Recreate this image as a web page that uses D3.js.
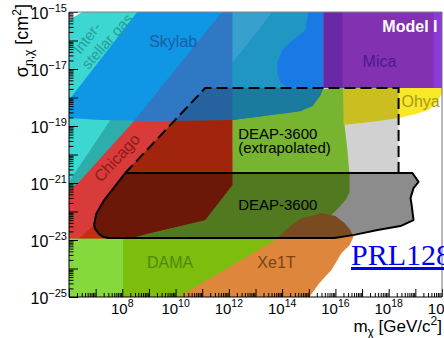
<!DOCTYPE html>
<html>
<head>
<meta charset="utf-8">
<script src="https://cdn.jsdelivr.net/npm/d3@7"></script>
<style>
  html, body { margin: 0; padding: 0; background: #fff; overflow: hidden; }
  svg { display: block; font-family: "Liberation Sans", Arial, Helvetica, sans-serif; }
</style>
</head>
<body>
<svg id="chart" width="444" height="338"></svg>
<script>
// Region outlines, vertices given as [log10(m / GeV), log10(sigma / cm^2)]
const interstellarGas = [[6.49,-15],[12.1,-15],[6,-21.5],[6,-15.28]];
const interstellarGasInner = [[8.29,-17.81],[10.92,-17.81],[6,-22.65],[6,-20.96],[7.5,-18.86]];
const damaUpper = [[12.13,-17.91],[16.30,-17.67],[16.34,-18.96],[16.45,-19.84],[16.53,-20.72],[16.53,-21.32],
                   [16.41,-21.56],[16.11,-21.88],[15.81,-22.16],[15.81,-23.04],[8.03,-23.04],[8.03,-22.30],[12.13,-19.84]];
const chicago = [[11.75,-15],[12.13,-15],[12.13,-21.07],[11.11,-22.30],[9.05,-22.75],[7.54,-23.11],[6,-23.18],
                 [6,-21.25],[6.38,-20.96],[8.41,-18.86],[11.19,-15.63]];
const chicagoDeep = [[6.26,-23.04],[6.94,-22.47],[7.02,-22.09],[7.32,-21.60],[7.73,-21.11],[8.11,-20.65],[11.11,-17.67],
                     [12.13,-17.67],[12.13,-21.07],[11.11,-22.30],[9.05,-22.75],[7.54,-23.11]];
const dama = [[6,-22.96],[15.81,-22.96],[14.68,-25],[6,-25]];
const damaLowMass = [[6,-22.96],[8.03,-22.96],[8.03,-25],[6,-25]];
const xe1t = [[10.10,-25],[13.74,-23.0],[14.31,-22.51],[14.68,-22.26],[15.47,-22.05],[16.0,-22.16],[16.34,-22.40],
              [16.56,-22.65],[16.68,-22.89],[16.53,-23.18],[16.23,-23.46],[15.85,-24.05],[15.40,-24.51],[15.02,-25]];
const skylab = [[8.56,-15],[15.55,-15],[15.55,-17.67],[15.44,-17.91],[15.14,-18.30],[14.68,-18.47],[12.13,-18.79],
                [9.05,-18.82],[7.17,-18.79],[6,-18.72],[6,-18.09]];
const skylabCore = [[13.8,-15],[15.55,-15],[15.55,-17.67],[13.8,-17.67]];
const skylabMid = [[12.13,-16.79],[13.11,-15.63],[13.63,-15],[14.98,-15],[14.87,-15.63],[14.31,-16.05],[14.01,-16.33],
                   [13.82,-16.75],[13.82,-17.14],[13.93,-17.46],[14.16,-17.63],[15.51,-17.67],[15.44,-17.91],
                   [15.14,-18.30],[14.68,-18.47],[14.50,-18.51],[12.13,-18.79]];
const skylabEdge = [[12.13,-15],[13.63,-15],[13.11,-15.63],[12.13,-16.79]];
const skylabChicago = [[11.75,-15],[12.13,-15],[12.13,-18.79],[8.44,-18.82],[11.19,-15.63]];
const mica = [[15.55,-15],[20,-15],[20,-17.67],[15.55,-17.67]];
const micaLow = [[15.55,-15],[16.26,-15],[16.26,-17.67],[15.55,-17.67]];
const micaHigh = [[19.68,-15],[20,-15],[20,-17.67],[19.68,-17.67]];
const ohya = [[16.30,-17.67],[20,-17.67],[20,-17.84],[19.80,-18.19],[19.50,-18.44],[19.01,-18.58],[18.37,-18.72],
              [17.32,-18.86],[16.30,-18.96]];
const deapExtrapolated = [[8.11,-20.65],[11.11,-17.67],[18.37,-17.67],[18.37,-20.65]];
const deap = [[8.11,-20.65],[18.89,-20.65],[19.12,-20.96],[18.93,-21.18],[18.82,-21.53],[18.86,-21.77],[18.93,-22.30],
              [18.44,-22.51],[17.58,-22.65],[16.71,-22.82],[15.96,-22.93],[7.47,-22.93],[7.28,-22.89],[7.13,-22.79],
              [6.98,-22.61],[6.94,-22.47],[7.02,-22.09],[7.32,-21.60],[7.73,-21.11]];

// Axis decades
const xLabelExps = [8, 10, 12, 14, 16, 18, 20];
const yLabelExps = [-15, -17, -19, -21, -23, -25];

(function draw() {
  const svg = d3.select("#chart");
  const pL = 69, pR = 442, pT = 12, pB = 297;
  const x = d3.scaleLog().domain([1e6, 1e20]).range([pL, pR]);
  const y = d3.scaleLog().domain([1e-25, 1e-15]).range([pB, pT]);

  const toXY = d => [x(10 ** d[0]), y(10 ** d[1])];
  const path = pts => "M" + pts.map(toXY).map(p => p.join(",")).join("L") + "Z";

  svg.append("defs").append("clipPath").attr("id", "plot")
    .append("rect").attr("x", pL).attr("y", pT).attr("width", pR - pL).attr("height", pB - pT);

  const g = svg.append("g").attr("clip-path", "url(#plot)");

  const fills = [
    [interstellarGas, "#3dd7d2"],
    [interstellarGasInner, "#2daeaa"],
    [damaUpper, "#92dc3b"],
    [chicago, "#d93a3a"],
    [chicagoDeep, "#c52c10"],
    [dama, "#7cbd0e"],
    [damaLowMass, "#86d93c"],
    [xe1t, "#de873c"],
    [skylab, "#0f96e4"],
    [skylabCore, "#197ae6"],
    [skylabMid, "#2096c3"],
    [skylabEdge, "#37a0cd"],
    [skylabChicago, "#3078c4"],
    [mica, "#8232b0"],
    [micaLow, "#6928a5"],
    [micaHigh, "#8a3ada"],
    [ohya, "#f8e828"]
  ];
  fills.forEach(([pts, c]) => g.append("path").attr("d", path(pts)).attr("fill", c));

  // DEAP-3600 excluded regions: translucent shading over the other limits
  g.append("path").attr("d", path(deapExtrapolated))
    .attr("fill", "#000").attr("fill-opacity", 0.18)
    .attr("stroke", "#000").attr("stroke-width", 2).attr("stroke-dasharray", "11,5");
  g.append("path").attr("d", path(deap))
    .attr("fill", "#000").attr("fill-opacity", 0.45)
    .attr("stroke", "#000").attr("stroke-width", 2).attr("stroke-linejoin", "round");

  // Region labels
  const label = (txt, lx, ly, color, opts = {}) => {
    const px = x(10 ** lx), py = y(10 ** ly);
    const t = g.append("text").attr("x", px).attr("y", py)
      .attr("fill", color).attr("font-size", opts.size || 16).text(txt);
    if (opts.rotate) t.attr("transform", `rotate(${opts.rotate},${px},${py})`);
    if (opts.anchor) t.attr("text-anchor", opts.anchor);
    if (opts.weight) t.attr("font-weight", opts.weight);
    return t;
  };
  label("Inter-", 6.42, -16.51, "#259e9b", { rotate: -52, size: 15 });
  label("stellar gas", 6.72, -17.04, "#259e9b", { rotate: -48, size: 15 });
  label("Skylab", 9.01, -16.23, "#1b5ea6");
  label("Mica", 17.02, -16.93, "#4b1a85");
  label("Ohya", 18.48, -18.33, "#a39a1e");
  label("Model I", 19.83, -15.70, "#fff", { anchor: "end", weight: "bold" });
  label("Chicago", 7.20, -21.0, "#8b1a1a", { rotate: -47 });
  label("DEAP-3600", 12.35, -19.46, "#000", { size: 15 });
  label("(extrapolated)", 12.35, -19.93, "#000", { size: 15 });
  label("DEAP-3600", 12.35, -21.95, "#000", { size: 15 });
  label("DAMA", 8.93, -23.98, "#4e8a08");
  label("Xe1T", 13.07, -23.98, "#7a4416");

  // Axes: ticks drawn inward
  const minorX = [], minorY = [];
  for (let e = 6; e < 20; e++) for (let k = 2; k <= 9; k++) minorX.push(k * 10 ** e);
  for (let e = -25; e < -15; e++) for (let k = 2; k <= 9; k++) minorY.push(k * 10 ** e);
  const majorX = d3.range(6, 21).map(e => 10 ** e);
  const majorY = d3.range(-25, -14).map(e => 10 ** e);

  const axisGroup = (axis, tx, ty) => {
    const a = svg.append("g").attr("transform", `translate(${tx},${ty})`).call(axis);
    a.select(".domain").remove();
    a.selectAll("text").remove();
    a.selectAll("line").attr("stroke", "#000");
    return a;
  };
  axisGroup(d3.axisBottom(x).tickValues(majorX).tickSize(-8), 0, pB);
  axisGroup(d3.axisBottom(x).tickValues(minorX).tickSize(-4), 0, pB);
  axisGroup(d3.axisLeft(y).tickValues(majorY).tickSize(-9), pL, 0);
  axisGroup(d3.axisLeft(y).tickValues(minorY).tickSize(-4.5), pL, 0);

  // Frame
  svg.append("line").attr("x1", pL).attr("x2", pR).attr("y1", pT).attr("y2", pT).attr("stroke", "#808080");
  svg.append("line").attr("x1", pR).attr("x2", pR).attr("y1", pT).attr("y2", pB).attr("stroke", "#707070");
  svg.append("line").attr("x1", pL).attr("x2", pL).attr("y1", pT).attr("y2", pB).attr("stroke", "#000");
  svg.append("line").attr("x1", pL).attr("x2", pR).attr("y1", pB).attr("y2", pB).attr("stroke", "#000");

  // Tick labels
  xLabelExps.forEach(e => {
    const t = svg.append("text").attr("x", x(10 ** e)).attr("y", 314).attr("text-anchor", "middle")
      .attr("font-size", 15).attr("fill", "#000");
    t.append("tspan").text("10");
    t.append("tspan").attr("dy", -7).attr("font-size", 10.5).text(String(e));
  });
  yLabelExps.forEach(e => {
    const t = svg.append("text").attr("x", 67).attr("y", y(10 ** e) + 6.5).attr("text-anchor", "end")
      .attr("font-size", 16).attr("fill", "#000");
    t.append("tspan").text("10");
    t.append("tspan").attr("dy", -7).attr("font-size", 11).text("\u2212" + Math.abs(e));
  });

  // Axis titles
  const xt = svg.append("text").attr("x", pR).attr("y", 332).attr("text-anchor", "end").attr("font-size", 17);
  xt.append("tspan").text("m");
  xt.append("tspan").attr("dy", 4).attr("font-size", 12).text("\u03c7");
  xt.append("tspan").attr("dy", -4).text(" [GeV/c");
  xt.append("tspan").attr("dy", -7).attr("font-size", 12).text("2");
  xt.append("tspan").attr("dy", 7).text("]");

  const yt = svg.append("text").attr("transform", "translate(28,4) rotate(-90)")
    .attr("text-anchor", "end").attr("font-size", 18);
  yt.append("tspan").text("\u03c3");
  yt.append("tspan").attr("dy", 5).attr("font-size", 12).text("n,\u03c7");
  yt.append("tspan").attr("dy", -5).text(" [cm");
  yt.append("tspan").attr("dy", -7).attr("font-size", 12).text("2");
  yt.append("tspan").attr("dy", 7).text("]");

  // Reference link
  svg.append("text").attr("x", 351).attr("y", 265)
    .style("font-family", "'Liberation Serif', 'Times New Roman', serif").attr("font-size", 30)
    .attr("fill", "#0000ee").attr("text-decoration", "underline").text("PRL128");
})();
</script>
</body>
</html>
